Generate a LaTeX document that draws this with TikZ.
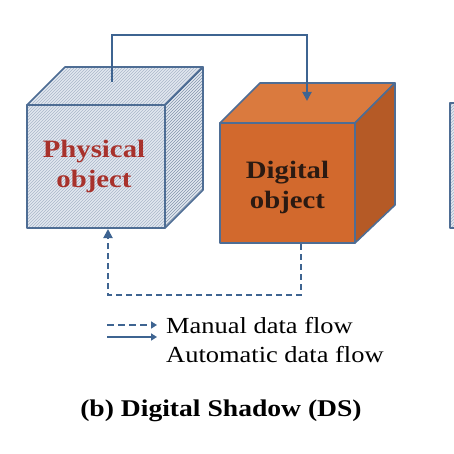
\documentclass[tikz,border=0pt]{standalone}
\usepackage{fontspec}
\setmainfont[FakeStretch=1.15]{Liberation Serif}
\usetikzlibrary{patterns,arrows.meta}
\definecolor{edgec}{HTML}{4E6D94}
\definecolor{flow}{HTML}{3E6491}
\definecolor{physbg}{HTML}{E2E8F0}
\definecolor{physline}{HTML}{A9B7C9}
\definecolor{physdark}{HTML}{8395AC}
\definecolor{orfront}{HTML}{D2692D}
\definecolor{ortop}{HTML}{DA7A3E}
\definecolor{orside}{HTML}{B55A26}
\definecolor{physred}{HTML}{A8322C}
\definecolor{digtext}{HTML}{2B1A12}
\tikzset{
  face/.style={draw=edgec, line width=1.6pt, line join=round},
  flowline/.style={draw=flow, line width=1.9pt, -{Triangle[width=9pt,length=9pt]}},
  manual/.style={flowline, dash pattern=on 6pt off 4pt},
  legarrow/.style={draw=flow, line width=2.4pt, -{Triangle[width=7pt,length=6pt]}},
  label/.style={font=\bfseries\fontsize{25}{30}\selectfont, align=center},
  legendtxt/.style={font=\fontsize{23}{26}\selectfont, anchor=west, inner sep=0pt}
}
\begin{document}
\begin{tikzpicture}[x=1pt,y=-1pt]
\useasboundingbox (0,0) rectangle (454,454);
\fill[white] (0,0) rectangle (454,454);

% third cube, partly visible
\fill[physbg] (450,103) rectangle (470,228);
\fill[pattern=north east lines, pattern color=physline] (450,103) rectangle (470,228);
\draw[face] (450,103) rectangle (470,228);

% Physical cube
\fill[physbg] (27,105) -- (65,67) -- (203,67) -- (203,190) -- (165,228) -- (27,228) -- cycle;
\fill[pattern=north east lines, pattern color=physline] (27,105) -- (65,67) -- (203,67) -- (165,105) -- (165,228) -- (27,228) -- cycle;
\fill[pattern=north east lines, pattern color=physdark] (165,105) -- (203,67) -- (203,190) -- (165,228) -- cycle;
\draw[face] (27,105) -- (65,67) -- (203,67) -- (165,105) -- cycle;
\draw[face] (165,105) -- (203,67) -- (203,190) -- (165,228) -- cycle;
\node[face, minimum width=138pt, minimum height=123pt, inner sep=0pt] (phys) at (96,166.5) {};
\node[label, text=physred] (physlab) at (94,166) {Physical\\object};

% Digital cube
\filldraw[face, fill=ortop] (220,123) -- (260,83) -- (395,83) -- (355,123) -- cycle;
\filldraw[face, fill=orside] (355,123) -- (395,83) -- (395,205) -- (355,243) -- cycle;
\node[face, fill=orfront, minimum width=135pt, minimum height=120pt, inner sep=0pt] (dig) at (287.5,183) {};
\node[label, text=digtext] (diglab) at (287.5,187) {Digital\\object};

% connectors
\coordinate (ptop) at (112,82);
\coordinate (dtop) at (307,101);
\draw[flowline] (ptop) -- ++(0,-47) -| (dtop);
\coordinate (dbot) at (301,244);
\coordinate (pbot) at (108,229);
\draw[manual] (dbot) -- ++(0,51) -| (pbot);

% legend
\coordinate (m1) at (107,325);
\coordinate (m2) at (157,325);
\coordinate (a1) at (107,337);
\coordinate (a2) at (157,337);
\draw[legarrow, dash pattern=on 7pt off 4pt] (m1) -- (m2);
\draw[legarrow] (a1) -- (a2);
\node[legendtxt] (lm) at (166,326) {Manual data flow};
\node[legendtxt] (la) at (166,355) {Automatic data flow};

% title
\node[font=\bfseries\fontsize{24}{28}\selectfont] (title) at (221,411) {(b) Digital Shadow (DS)};
\end{tikzpicture}
\end{document}
